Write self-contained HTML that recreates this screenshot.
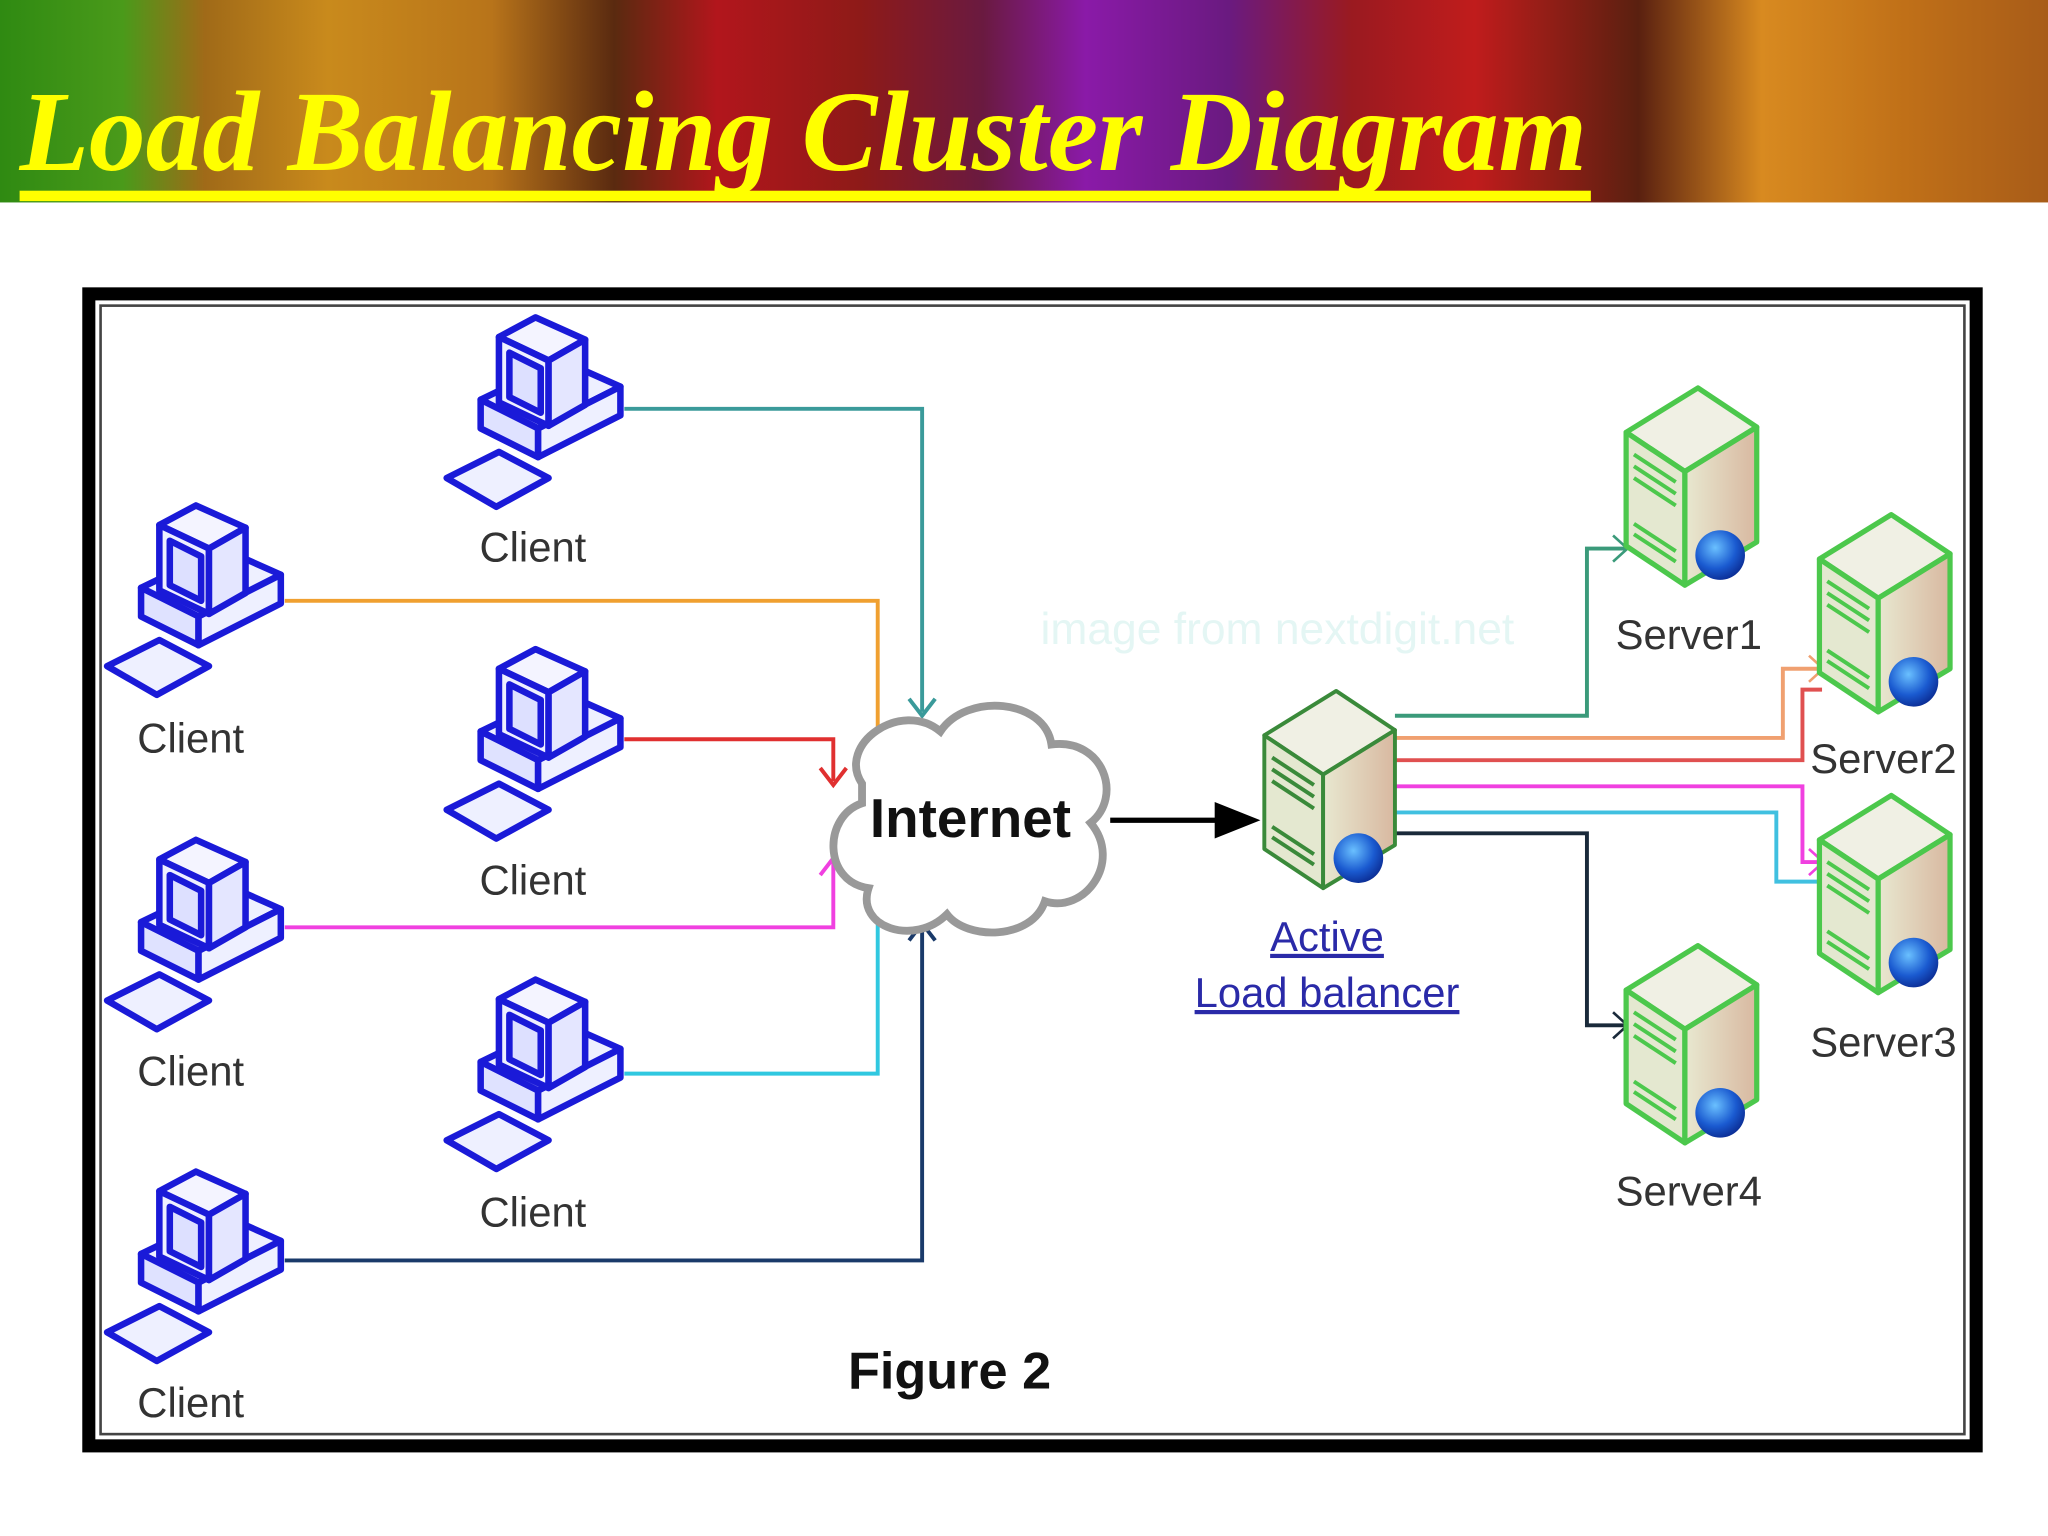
<!DOCTYPE html>
<html><head><meta charset="utf-8"><style>
html,body{margin:0;padding:0;background:#fff;}
svg{display:block;}
</style></head><body>
<svg width="2048" height="1536" viewBox="0 0 1568 1176" preserveAspectRatio="none" xmlns="http://www.w3.org/2000/svg">
<defs>
<linearGradient id="hdr" x1="0" x2="1" y1="0" y2="0">
<stop offset="0" stop-color="#2f8a12"/><stop offset="0.06" stop-color="#4a9a1a"/>
<stop offset="0.1" stop-color="#a06a18"/><stop offset="0.16" stop-color="#c98a1c"/>
<stop offset="0.24" stop-color="#b8741a"/><stop offset="0.3" stop-color="#5a2a10"/>
<stop offset="0.35" stop-color="#b2161c"/><stop offset="0.42" stop-color="#8e1a18"/>
<stop offset="0.48" stop-color="#6a1a40"/><stop offset="0.53" stop-color="#8a1aa8"/>
<stop offset="0.6" stop-color="#6a1a80"/><stop offset="0.66" stop-color="#9a1a20"/>
<stop offset="0.72" stop-color="#c01c1c"/><stop offset="0.8" stop-color="#5a2010"/>
<stop offset="0.86" stop-color="#d88a20"/><stop offset="0.93" stop-color="#c07018"/>
<stop offset="1" stop-color="#a85c18"/>
</linearGradient>
<linearGradient id="srv" x1="0" x2="1"><stop offset="0" stop-color="#e8e8d0"/><stop offset="1" stop-color="#d8b8a0"/></linearGradient>
<radialGradient id="glb" cx="0.4" cy="0.35" r="0.7"><stop offset="0" stop-color="#6ac0ff"/><stop offset="0.6" stop-color="#1a5ad0"/><stop offset="1" stop-color="#0a2a90"/></radialGradient>
<g id="client">
 <g stroke="#1a1ad8" stroke-width="5" stroke-linejoin="round" fill="#eef0ff">
  <polygon points="28,68 90,38 135,58 72,90"/>
  <polygon points="28,68 72,90 72,112 28,90" fill="#dfe2ff"/>
  <polygon points="72,90 135,58 135,80 72,112"/>
  <polygon points="42,20 70,5 108,22 80,38" fill="#f4f4ff"/>
  <polygon points="42,20 80,38 80,88 42,70"/>
  <polygon points="50,32 74,44 74,78 50,66" fill="#dde0ff"/>
  <polygon points="80,38 108,22 108,72 80,88" fill="#e4e6ff"/>
  <polygon points="2,128 42,108 80,128 40,150"/>
 </g>
</g>
<g id="server">
 <g stroke="#4cc84c" stroke-width="4" stroke-linejoin="round">
  <polygon points="0,38 55,4 100,34 45,68" fill="#f0f0e4"/>
  <polygon points="0,38 45,68 45,155 0,125" fill="#e4e8d0"/>
  <polygon points="45,68 100,34 100,122 45,155" fill="url(#srv)"/>
 </g>
 <g stroke="#4cc84c" stroke-width="3"><line x1="6" y1="55" x2="38" y2="76"/><line x1="6" y1="64" x2="38" y2="85"/><line x1="6" y1="73" x2="38" y2="94"/><line x1="6" y1="108" x2="38" y2="129"/><line x1="6" y1="116" x2="38" y2="137"/></g>
 <circle cx="72" cy="132" r="19" fill="url(#glb)"/>
</g>
<g id="lbserver">
 <g stroke="#3a8a3a" stroke-width="3" stroke-linejoin="round">
  <polygon points="0,38 55,4 100,34 45,68" fill="#f0f0e4"/>
  <polygon points="0,38 45,68 45,155 0,125" fill="#e4e8d0"/>
  <polygon points="45,68 100,34 100,122 45,155" fill="url(#srv)"/>
 </g>
 <g stroke="#3a8a3a" stroke-width="3"><line x1="6" y1="55" x2="38" y2="76"/><line x1="6" y1="64" x2="38" y2="85"/><line x1="6" y1="73" x2="38" y2="94"/><line x1="6" y1="108" x2="38" y2="129"/><line x1="6" y1="116" x2="38" y2="137"/></g>
 <circle cx="72" cy="132" r="19" fill="url(#glb)"/>
</g>
</defs>
<rect x="0" y="0" width="1568" height="155" fill="url(#hdr)"/>
<text x="15" y="130" font-family="Liberation Serif, serif" font-style="italic" font-weight="bold" font-size="88" fill="#ffff00" textLength="1200" lengthAdjust="spacingAndGlyphs">Load Balancing Cluster Diagram</text>
<rect x="15" y="146" width="1203" height="8" fill="#ffff00"/>

<rect x="68" y="225" width="1445" height="882" fill="#fff" stroke="#000" stroke-width="10"/>
<rect x="77" y="234" width="1427" height="864" fill="none" stroke="#444" stroke-width="2"/>

<text x="978" y="493" font-family="Liberation Sans, sans-serif" font-size="34" fill="#e4f6f4" text-anchor="middle">image from nextdigit.net</text>

<g fill="none" stroke-width="3">
<polyline points="478,313 706,313 706,545" stroke="#3a9a9a"/>
<polyline points="218,460 672,460 672,582" stroke="#f0a030"/>
<polyline points="478,566 638,566 638,598" stroke="#e03030"/>
<polyline points="218,710 638,710 638,660" stroke="#f040e0"/>
<polyline points="478,822 672,822 672,682" stroke="#30c8e0"/>
<polyline points="218,965 706,965 706,710" stroke="#1a3a6a"/>
<polyline points="696,535 706,548 716,535" stroke="#3a9a9a"/>
<polyline points="662,572 672,585 682,572" stroke="#f0a030"/>
<polyline points="628,588 638,601 648,588" stroke="#e03030"/>
<polyline points="628,670 638,657 648,670" stroke="#f040e0"/>
<polyline points="662,692 672,679 682,692" stroke="#30c8e0"/>
<polyline points="696,720 706,707 716,720" stroke="#1a3a6a"/>

<polyline points="1068,548 1215,548 1215,420 1245,420" stroke="#3a9a7a"/>
<polyline points="1068,565 1365,565 1365,512 1395,512" stroke="#f0a070"/>
<polyline points="1068,582 1380,582 1380,528 1395,528" stroke="#e05050"/>
<polyline points="1068,602 1380,602 1380,660 1395,660" stroke="#f040e0"/>
<polyline points="1068,622 1360,622 1360,675 1395,675" stroke="#40c0e0"/>
<polyline points="1068,638 1215,638 1215,785 1245,785" stroke="#1a2a3a"/>
<polyline points="1235,410 1246,420 1235,430" stroke="#3a9a7a" stroke-width="2"/>
<polyline points="1385,502 1396,512 1385,522" stroke="#f0a070" stroke-width="2"/>
<polyline points="1385,650 1396,660 1385,670" stroke="#f040e0" stroke-width="2"/>
<polyline points="1235,775 1246,785 1235,795" stroke="#1a2a3a" stroke-width="2"/>
</g>

<use href="#client" x="340" y="238"/>
<use href="#client" x="80" y="382"/>
<use href="#client" x="340" y="492"/>
<use href="#client" x="80" y="638"/>
<use href="#client" x="340" y="745"/>
<use href="#client" x="80" y="892"/>
<g font-family="Liberation Sans, sans-serif" font-size="32" fill="#333" text-anchor="middle">
<text x="408" y="430">Client</text>
<text x="146" y="576">Client</text>
<text x="408" y="685">Client</text>
<text x="146" y="831">Client</text>
<text x="408" y="939">Client</text>
<text x="146" y="1085">Client</text>
<text x="1293" y="497">Server1</text>
<text x="1442" y="592">Server2</text>
<text x="1442" y="809">Server3</text>
<text x="1293" y="923">Server4</text>
</g>

<path d="M660,600 C640,570 690,535 720,560 C740,530 800,535 805,570 C845,565 860,610 835,630 C860,660 830,700 800,690 C790,720 740,720 725,700 C700,725 655,710 665,680 C630,675 630,625 660,615 Z" fill="#fff" stroke="#999" stroke-width="6"/>
<text x="743" y="641" font-family="Liberation Sans, sans-serif" font-weight="bold" font-size="42" fill="#111" text-anchor="middle">Internet</text>
<line x1="850" y1="628" x2="935" y2="628" stroke="#000" stroke-width="4"/>
<polygon points="930,614 965,628 930,642" fill="#000"/>

<use href="#lbserver" x="968" y="525"/>
<use href="#server" x="1245" y="293"/>
<use href="#server" x="1393" y="390"/>
<use href="#server" x="1393" y="605"/>
<use href="#server" x="1245" y="720"/>

<g font-family="Liberation Sans, sans-serif" font-size="32" fill="#2a2aa8" text-anchor="middle" text-decoration="underline">
<text x="1016" y="728">Active</text>
<text x="1016" y="771">Load balancer</text>
</g>
<text x="727" y="1063" font-family="Liberation Sans, sans-serif" font-weight="bold" font-size="40" fill="#111" text-anchor="middle">Figure 2</text>
</svg>
</body></html>
